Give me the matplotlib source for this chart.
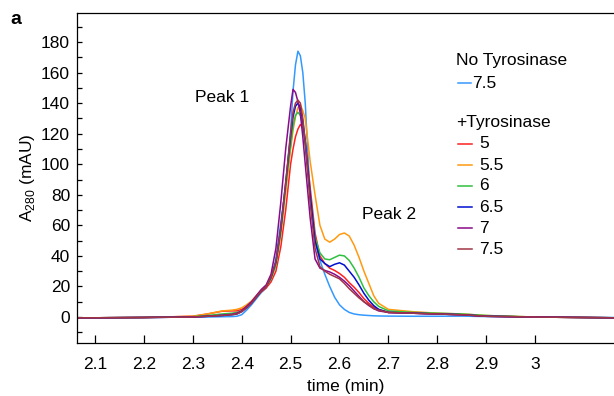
import numpy as np
import matplotlib
matplotlib.use("Agg")
import matplotlib.pyplot as plt
from matplotlib.lines import Line2D

plt.rcParams['font.family'] = ['Liberation Sans', 'DejaVu Sans']
plt.rcParams['mathtext.fontset'] = 'custom'
plt.rcParams['mathtext.rm'] = 'Liberation Sans'

# time axis (min), shared by all traces
t = [2.06, 2.10, 2.20, 2.30, 2.33, 2.36, 2.38, 2.39, 2.40, 2.41, 2.42, 2.43,
     2.44, 2.45, 2.46, 2.47, 2.48, 2.49, 2.50, 2.505, 2.51, 2.515, 2.52,
     2.525, 2.53, 2.54, 2.55, 2.56, 2.57, 2.58, 2.59, 2.60, 2.61, 2.62, 2.63,
     2.64, 2.65, 2.66, 2.67, 2.68, 2.70, 2.75, 2.80, 2.85, 2.90, 3.00, 3.16]

# A280 (mAU)
no_tyr_75 = [-0.5, -0.5, -0.3, 0, 0, 0.2, 0.3, 0.5, 1.5, 4.5, 8, 12, 16, 19, 25,
             38, 62, 85, 122, 148, 165, 174, 171, 160, 140, 78, 50, 37, 28, 20,
             13, 8, 5, 3, 2, 1.5, 1.2, 1, 0.8, 0.7, 0.6, 0.5, 0.5, 0.6, 0.3, 0, -0.3]
tyr_5 = [-0.5, -0.5, -0.3, 0.5, 2, 3.8, 4, 4, 5, 7, 9.5, 13, 16.5, 19, 23,
         30, 46, 70, 100, 110, 118, 123, 126, 124, 115, 85, 55, 40, 35, 32,
         30.5, 28.5, 26, 22.5, 19.5, 16, 12, 9, 6.5, 5, 3, 2.5, 2, 1.5, 0.5, 0, -0.5]
tyr_55 = [-0.5, -0.5, -0.3, 0.5, 2, 4, 4.5, 5, 6, 8, 10.5, 14, 17.5, 20, 25,
          34, 54, 82, 110, 122, 131, 137, 139, 135, 130, 102, 80, 60, 51, 49,
          51, 54, 55, 53, 47, 39, 30, 22, 14, 9, 5, 3.5, 2.5, 2, 1, 0, -0.5]
tyr_6 = [-0.5, -0.5, -0.3, 0.2, 1, 2, 2.5, 3, 4, 6.5, 9.5, 13, 17, 20, 25,
         34, 55, 85, 112, 125, 132, 134, 132, 126, 112, 80, 52, 42, 38, 37.5,
         39, 40.5, 40, 37, 32, 26, 19, 14, 10, 7, 4, 3, 2.5, 2, 1, 0, -0.5]
tyr_65 = [-0.5, -0.5, -0.3, 0, 0.5, 1, 1.5, 2, 3.5, 6, 9, 13, 17, 20, 26,
          36, 58, 88, 118, 131, 138, 140, 137, 128, 115, 80, 50, 38, 35, 33,
          34.5, 35.5, 34, 30, 26, 21, 15.5, 11, 7.5, 5, 3, 2.5, 2, 1.5, 0.5, 0, -0.5]
tyr_7 = [-0.5, -0.5, -0.3, 0, 0.5, 1.2, 1.8, 2.5, 4, 7, 10, 14, 18, 21, 28,
         45, 75, 110, 138, 149, 147, 141, 133, 118, 100, 65, 38, 32, 30.5, 29.5,
         28, 26, 23.5, 20.5, 17, 13.5, 10, 7.5, 5.5, 4, 3, 2.5, 2, 1.5, 0.5, 0, -0.5]
tyr_75 = [-0.5, -0.5, -0.3, 0, 0.5, 1, 1.5, 2, 3.5, 6, 9, 13, 17, 20, 26,
          36, 58, 88, 120, 134, 140, 142, 140, 130, 115, 75, 45, 33, 30, 28,
          26.5, 25, 22, 18.5, 15.5, 12.5, 10, 8, 5.5, 4.5, 3, 2.5, 2, 1.5, 0.5, 0, -0.5]

tyr_labels = ['5', '5.5', '6', '6.5', '7', '7.5']
tyr_series = [tyr_5, tyr_55, tyr_6, tyr_65, tyr_7, tyr_75]
tyr_colors = ['#ff2020', '#ff9a10', '#30c040', '#0010d0', '#8a0a8a', '#a03545']
no_tyr_color = '#3399ff'

fs = 12.5

fig = plt.figure(figsize=(6.14, 3.96), dpi=100)
ax = fig.add_axes([77/614, 1 - 343/396, 537/614, 330/396])

ax.plot(t, no_tyr_75, color=no_tyr_color, lw=1.1)
for y, c in zip(tyr_series, tyr_colors):
    ax.plot(t, y, color=c, lw=1.1)

ax.set_xlim(2.0632, 3.1614)
ax.set_ylim(-17, 199)
ax.set_xticks([2.1, 2.2, 2.3, 2.4, 2.5, 2.6, 2.7, 2.8, 2.9, 3.0])
ax.set_xticklabels(['2.1', '2.2', '2.3', '2.4', '2.5', '2.6', '2.7', '2.8', '2.9', '3'])
ax.set_yticks(range(0, 181, 20))
ax.set_yticks(range(-10, 191, 20), minor=True)
ax.tick_params(axis='x', direction='in', length=6, width=0.9, pad=10, labelsize=fs)
ax.tick_params(axis='y', which='both', direction='in', length=3.8, width=0.9, pad=5, labelsize=fs)
ax.spines['right'].set_visible(False)
for s in ['left', 'bottom', 'top']:
    ax.spines[s].set_linewidth(0.9)

ax.set_xlabel('time (min)', fontsize=fs, labelpad=5)
ax.set_ylabel(r'A$_{\mathrm{280}}$ (mAU)', fontsize=fs, labelpad=3)

ax.text(2.3045, 144, 'Peak 1', fontsize=fs, va='center', ha='left')
ax.text(2.647, 66.8, 'Peak 2', fontsize=fs, va='center', ha='left')

fig.text(10/614, 1 - 20/396, 'a', fontsize=14, fontweight='bold', va='center', ha='left')

# legend, drawn by hand in figure pixels
def fx(px):
    return px / 614

def fy(py):
    return 1 - py / 396

fig.text(fx(456), fy(61), 'No Tyrosinase', fontsize=fs, va='center', ha='left')
fig.add_artist(Line2D([fx(458), fx(471)], [fy(83), fy(83)], color=no_tyr_color, lw=1.1))
fig.text(fx(472), fy(83), '7.5', fontsize=fs, va='center', ha='left')
fig.text(fx(456), fy(122), '+Tyrosinase', fontsize=fs, va='center', ha='left')
for i, (lab, c) in enumerate(zip(tyr_labels, tyr_colors)):
    yy = 144 + i * 21
    fig.add_artist(Line2D([fx(458), fx(472)], [fy(yy), fy(yy)], color=c, lw=1.1))
    fig.text(fx(479), fy(yy), lab, fontsize=fs, va='center', ha='left')

fig.savefig('out.png', dpi=100)
